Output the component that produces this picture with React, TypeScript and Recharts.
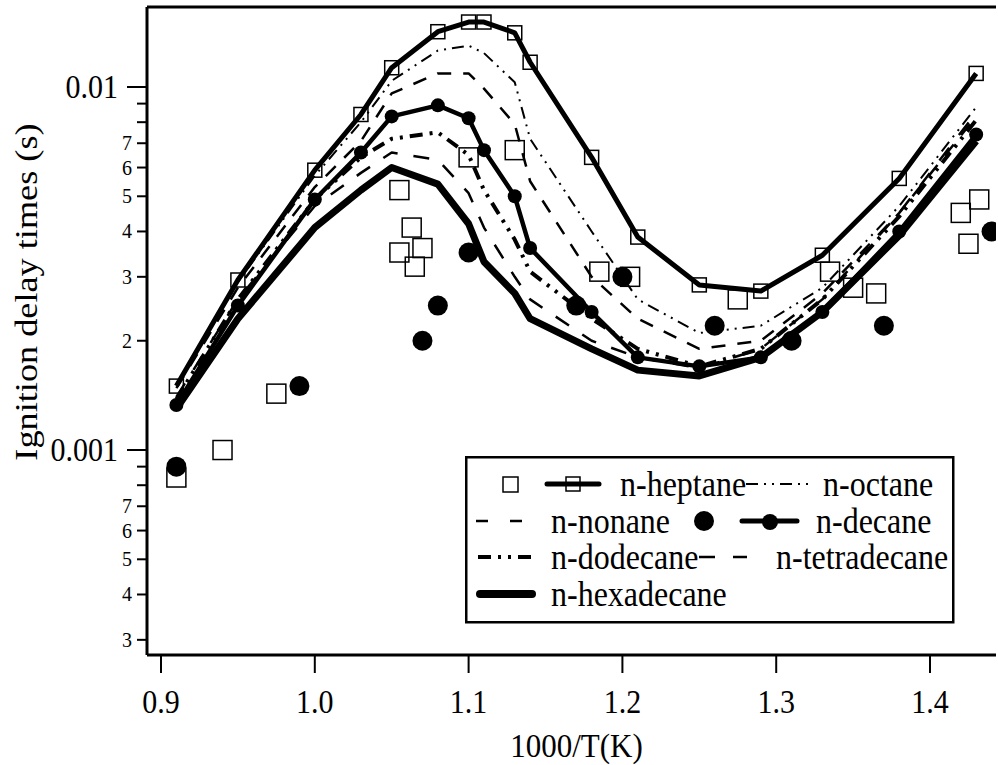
import { ComposedChart, Line, Scatter, XAxis, YAxis, ReferenceLine, Legend } from 'recharts';

// 1000/T grid shared by all model curves
const T_GRID = [0.91, 0.95, 1.0, 1.03, 1.05, 1.08, 1.1, 1.11, 1.13, 1.14, 1.18, 1.21, 1.25, 1.29, 1.33, 1.38, 1.43];

const HEPTANE = [0.0015, 0.00294, 0.0059, 0.0084, 0.0113, 0.0142, 0.0151, 0.0151, 0.0141, 0.0117, 0.0064, 0.00386, 0.00285, 0.00274, 0.00344, 0.0056, 0.0109];
const OCTANE = [0.00152, 0.0029, 0.0057, 0.008, 0.0104, 0.0126, 0.013, 0.0124, 0.0103, 0.0072, 0.004, 0.0026, 0.0021, 0.0022, 0.0028, 0.0047, 0.0088];
const NONANE = [0.00148, 0.0028, 0.0053, 0.0071, 0.0096, 0.0109, 0.0109, 0.0099, 0.0079, 0.0055, 0.003, 0.0023, 0.0019, 0.002, 0.0027, 0.0045, 0.0083];
const DECANE = [0.00133, 0.0025, 0.0049, 0.0066, 0.0083, 0.0089, 0.0082, 0.0067, 0.005, 0.0036, 0.0024, 0.0018, 0.0017, 0.0018, 0.0024, 0.004, 0.0074];
const DODECANE = [0.00138, 0.0026, 0.0049, 0.0064, 0.0072, 0.0075, 0.0065, 0.0052, 0.0038, 0.0031, 0.0023, 0.0019, 0.0017, 0.0019, 0.0026, 0.0044, 0.0081];
const TETRADECANE = [0.0014, 0.0026, 0.0047, 0.0058, 0.0066, 0.0063, 0.0051, 0.0041, 0.003, 0.0026, 0.002, 0.0018, 0.00168, 0.0019, 0.0026, 0.0045, 0.0085];
const HEXADECANE = [0.0013, 0.0023, 0.0041, 0.0052, 0.006, 0.0054, 0.0042, 0.0033, 0.0027, 0.0023, 0.0019, 0.00166, 0.0016, 0.0018, 0.0024, 0.0039, 0.0071];

// measurements: n-heptane (open squares), n-decane (filled circles)
const EXP_HEPTANE_X = [0.91, 0.94, 0.975, 1.055, 1.063, 1.07, 1.055, 1.065, 1.1, 1.13, 1.185, 1.205, 1.275, 1.335, 1.35, 1.365, 1.42, 1.425, 1.432];
const EXP_HEPTANE_Y = [0.00084, 0.001, 0.00143, 0.0052, 0.0041, 0.0036, 0.0035, 0.0032, 0.0064, 0.0067, 0.0031, 0.003, 0.0026, 0.0031, 0.0028, 0.0027, 0.0045, 0.0037, 0.0049];
const EXP_DECANE_X = [0.91, 0.99, 1.07, 1.08, 1.1, 1.17, 1.2, 1.26, 1.31, 1.37, 1.44];
const EXP_DECANE_Y = [0.0009, 0.0015, 0.002, 0.0025, 0.0035, 0.0025, 0.003, 0.0022, 0.002, 0.0022, 0.004];

const X_TICKS = [0.9, 1.0, 1.1, 1.2, 1.3, 1.4];
const X_TICK_LABELS = ['0.9', '1.0', '1.1', '1.2', '1.3', '1.4'];
const Y_TICKS = [0.0003, 0.0004, 0.0005, 0.0006, 0.0007, 0.0008, 0.0009, 0.001, 0.002, 0.003, 0.004, 0.005, 0.006, 0.007, 0.008, 0.009, 0.01];
const Y_TICK_LABELS = ['3', '4', '5', '6', '7', '', '', '0.001', '2', '3', '4', '5', '6', '7', '', '', '0.01'];

const X_DOMAIN = [0.8909, 1.4429];
const Y_DOMAIN = [0.0002725, 0.01661];

const FONT = "'Liberation Serif', 'Times New Roman', serif";
// the original figure's lettering is a little taller than plain Times
const STRETCH = 1.1;

const toPoints = (xs: number[], ys: number[]) => xs.map((x, i) => ({ x, y: ys[i] }));

const SERIES = [
  { key: 'hexadecane', ys: HEXADECANE, width: 7, dash: undefined },
  { key: 'tetradecane', ys: TETRADECANE, width: 2.5, dash: '16 16' },
  { key: 'dodecane', ys: DODECANE, width: 4, dash: '13 7 3 7 3 7' },
  { key: 'nonane', ys: NONANE, width: 2.5, dash: '14 12' },
  { key: 'octane', ys: OCTANE, width: 2, dash: '12 6 2 6 2 6' },
];

const SquareDot = (size: number) => (p: any) => (
  <rect key={p.index} x={p.cx - size / 2} y={p.cy - size / 2} width={size} height={size} fill="none" stroke="#000" strokeWidth={1.5} />
);
const CircleDot = (r: number) => (p: any) => <circle key={p.index} cx={p.cx} cy={p.cy} r={r} fill="#000" />;

function SText({ x, y, size, anchor = 'start', central = false, sy = STRETCH, children }: any) {
  return (
    <text
      transform={`translate(${x} ${y}) scale(1 ${sy})`}
      x={0}
      y={0}
      textAnchor={anchor}
      dominantBaseline={central ? 'central' : 'alphabetic'}
      fontSize={size}
      fontFamily={FONT}
      style={{ fontFamily: FONT }}
      fill="#000"
    >
      {children}
    </text>
  );
}

const XTick = ({ x, y, payload }: any) => {
  const i = X_TICKS.indexOf(payload.value);
  return (
    <g>
      <line x1={x} x2={x} y1={y} y2={y + 18} stroke="#000" strokeWidth={2} />
      <SText x={x} y={y + 58} size={30} anchor="middle">{X_TICK_LABELS[i]}</SText>
    </g>
  );
};

const YTick = ({ x, y, payload }: any) => {
  const i = Y_TICKS.indexOf(payload.value);
  const lab = Y_TICK_LABELS[i] ?? '';
  const major = lab.startsWith('0.');
  return (
    <g>
      <line x1={x - (major ? 20 : 10)} x2={x} y1={y} y2={y} stroke="#000" strokeWidth={2} />
      {lab && (
        <SText x={major ? x - 29 : x - 15} y={y + (major ? 11 : 7)} size={major ? 30 : 20} sy={major ? STRETCH : 1.05} anchor="end">
          {lab}
        </SText>
      )}
    </g>
  );
};

function LegendBox() {
  return (
    <svg width={490} height={168}>
      <rect x={1.25} y={1.25} width={487} height={165} fill="#fff" stroke="#000" strokeWidth={2.5} />
      {/* row 1 */}
      <rect x={38} y={21} width={15} height={15} fill="none" stroke="#000" strokeWidth={1.5} />
      <line x1={82} x2={134} y1={28} y2={28} stroke="#000" strokeWidth={5} strokeLinecap="round" />
      <rect x={101} y={21} width={14} height={14} fill="none" stroke="#000" strokeWidth={1.5} />
      <SText x={155} y={28} size={32} central>n-heptane</SText>
      <line x1={281} x2={344} y1={28} y2={28} stroke="#000" strokeWidth={2} strokeDasharray="12 6 2 6 2 6" />
      <SText x={358} y={28} size={32} central>n-octane</SText>
      {/* row 2 */}
      <line x1={11} x2={57} y1={65} y2={65} stroke="#000" strokeWidth={2.5} strokeDasharray="12 22" />
      <SText x={86} y={65} size={32} central>n-nonane</SText>
      <circle cx={239} cy={65} r={10} fill="#000" />
      <line x1={277} x2={332} y1={65} y2={65} stroke="#000" strokeWidth={5} strokeLinecap="round" />
      <circle cx={305} cy={66} r={8} fill="#000" />
      <SText x={351} y={65} size={32} central>n-decane</SText>
      {/* row 3 */}
      <line x1={13} x2={69} y1={101} y2={101} stroke="#000" strokeWidth={4} strokeDasharray="13 7 3 7 3 7" />
      <SText x={86} y={101} size={32} central>n-dodecane</SText>
      <line x1={234} x2={282} y1={101} y2={101} stroke="#000" strokeWidth={2.5} strokeDasharray="16 18" />
      <SText x={311} y={101} size={32} central>n-tetradecane</SText>
      {/* row 4 */}
      <line x1={15} x2={67} y1={138} y2={138} stroke="#000" strokeWidth={8} strokeLinecap="round" />
      <SText x={86} y={138} size={32} central>n-hexadecane</SText>
    </svg>
  );
}

export default function App() {
  return (
    <div style={{ position: 'absolute', left: 0, top: 0, background: '#fff' }}>
      <ComposedChart width={998} height={765} margin={{ top: 7, right: 2, left: 0, bottom: 0 }}>
        <XAxis
          dataKey="x"
          type="number"
          domain={X_DOMAIN}
          allowDataOverflow
          ticks={X_TICKS}
          interval={0}
          height={110}
          tickSize={0}
          tickMargin={0}
          tick={<XTick />}
          axisLine={{ stroke: '#000', strokeWidth: 3 }}
          label={({ viewBox }: any) => (
            <SText x={viewBox.x + viewBox.width / 2 + 5} y={757} size={31} anchor="middle">
              1000/T(K)
            </SText>
          )}
        />
        <YAxis
          dataKey="y"
          type="number"
          scale="log"
          domain={Y_DOMAIN}
          allowDataOverflow
          ticks={Y_TICKS}
          interval={0}
          width={147}
          tickSize={0}
          tickMargin={0}
          tick={<YTick />}
          axisLine={{ stroke: '#000', strokeWidth: 3 }}
          label={() => (
            <text
              transform={`translate(37 292) scale(1 1.17) rotate(-90)`}
              x={0}
              y={0}
              textAnchor="middle"
              fontSize={31}
              fontFamily={FONT}
              style={{ fontFamily: FONT }}
              fill="#000"
            >
              Ignition delay times (s)
            </text>
          )}
        />
        <ReferenceLine y={Y_DOMAIN[1]} stroke="#000" strokeWidth={3} ifOverflow="visible" />
        {SERIES.map((s) => (
          <Line
            key={s.key}
            data={toPoints(T_GRID, s.ys)}
            dataKey="y"
            type="linear"
            stroke="#000"
            strokeWidth={s.width}
            strokeDasharray={s.dash}
            strokeLinejoin="round"
            dot={false}
            activeDot={false}
            isAnimationActive={false}
          />
        ))}
        <Line
          data={toPoints(T_GRID, DECANE)}
          dataKey="y"
          type="linear"
          stroke="#000"
          strokeWidth={4.5}
          strokeLinejoin="round"
          dot={CircleDot(7)}
          activeDot={false}
          isAnimationActive={false}
        />
        <Line
          data={toPoints(T_GRID, HEPTANE)}
          dataKey="y"
          type="linear"
          stroke="#000"
          strokeWidth={5}
          strokeLinejoin="round"
          dot={SquareDot(14)}
          activeDot={false}
          isAnimationActive={false}
        />
        <Scatter data={toPoints(EXP_HEPTANE_X, EXP_HEPTANE_Y)} shape={SquareDot(19)} isAnimationActive={false} />
        <Scatter data={toPoints(EXP_DECANE_X, EXP_DECANE_Y)} shape={CircleDot(10)} isAnimationActive={false} />
        <Legend
          layout="vertical"
          align="center"
          verticalAlign="middle"
          content={() => <LegendBox />}
          wrapperStyle={{ position: 'absolute', left: 465, top: 456, width: 490, height: 168 }}
        />
      </ComposedChart>
    </div>
  );
}
